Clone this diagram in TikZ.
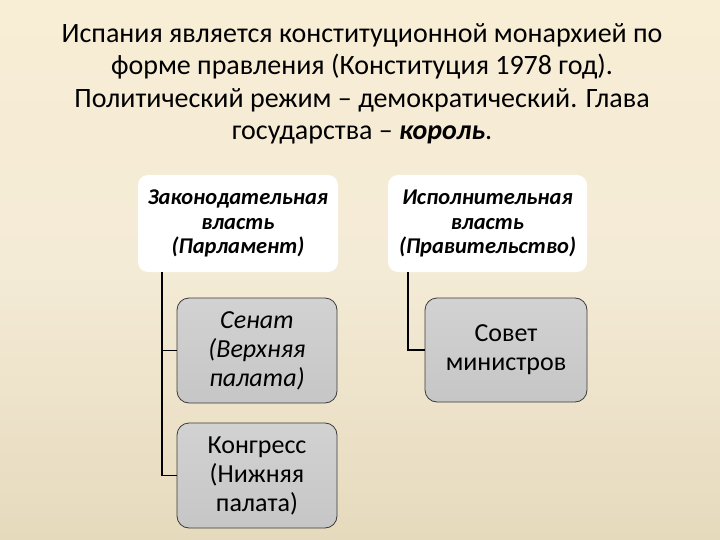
\documentclass[tikz,border=0pt]{standalone}
\usepackage{fontspec}
\setmainfont{Carlito}
\definecolor{bgtop}{HTML}{FCEFD4}
\definecolor{bgmid}{HTML}{F4EBD6}
\definecolor{bgbot}{HTML}{D8C9A4}
\definecolor{boxfill}{HTML}{D2D2D2}
\definecolor{boxfilldark}{HTML}{C6C6C6}
\definecolor{boxline}{HTML}{3A3A3A}
\pgfdeclareverticalshading{bgshade}{100bp}{color(0bp)=(bgbot); color(50bp)=(bgmid); color(100bp)=(bgtop)}
\tikzset{
  headbox/.style={fill=white, rounded corners=10pt, align=center, inner sep=0pt,
    font=\fontsize{22.5}{24.5}\selectfont\bfseries\itshape},
  childbox/.style={draw=boxline, line width=0.8pt, top color=boxfill, bottom color=boxfilldark,
    rounded corners=12pt, align=center, inner sep=0pt,
    font=\fontsize{26}{29}\selectfont},
  conn/.style={draw=black, line width=1.8pt},
}
\begin{document}
\begin{tikzpicture}[x=1pt,y=-1pt]
\useasboundingbox (0,0) rectangle (720,540);
\shade[shading=bgshade] (0,0) rectangle (720,540);
\node[align=center, font=\fontsize{28}{32.5}\selectfont] (title) at (362,84)
  {Испания является конституционной монархией по\\
   форме правления (Конституция 1978 год).\\
   Политический режим – демократический. Глава\\
   государства – \textbf{\textit{король}}.};
\node[headbox, minimum width=200pt, minimum height=97pt] (leg) at (238,223.5)
  {Законодательная\\власть\\(Парламент)};
\node[headbox, minimum width=199pt, minimum height=97pt] (exe) at (487.5,223.5)
  {Исполнительная\\власть\\(Правительство)};
\node[childbox, minimum width=160pt, minimum height=105pt, font=\fontsize{26}{29}\selectfont\itshape] (sen) at (257,350.5)
  {Сенат\\(Верхняя\\палата)};
\node[childbox, minimum width=160pt, minimum height=105pt] (kon) at (257,475.5)
  {Конгресс\\(Нижняя\\палата)};
\node[childbox, minimum width=162pt, minimum height=104pt] (sov) at (506,350)
  {Совет\\министров};
\coordinate (lx) at (162,0);
\coordinate (rx) at (408,0);
\draw[conn] (leg.south -| lx) |- (kon.west);
\draw[conn] (lx |- sen.west) -- (sen.west);
\draw[conn] (exe.south -| rx) |- (sov.west);
\end{tikzpicture}
\end{document}
